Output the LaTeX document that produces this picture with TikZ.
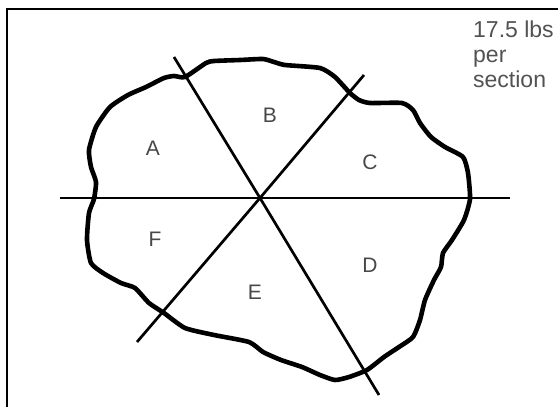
\documentclass[tikz,border=0pt]{standalone}
\usepackage{fontspec}
\setmainfont{Liberation Sans}
\usepackage{tikz}
\usetikzlibrary{calc}
\colorlet{labelcolor}{black!72}
\tikzset{
  outline/.style={black, line width=4.6pt, line join=round},
  cutline/.style={black, line width=2.7pt},
  frameline/.style={black, line width=2pt},
  section label/.style={text=labelcolor, font=\fontsize{21}{23}\selectfont},
  note/.style={text=black!68, align=left, anchor=north west,
    inner sep=0pt, font=\fontsize{23}{25}\selectfont}
}

\begin{document}
\begin{tikzpicture}[x=1pt, y=-1pt]

  \useasboundingbox (0,0) rectangle (558,407);

  % Frame, only left and top edges are visible.
  \draw[frameline] (7,407) -- (7,9) -- (558,9);

  % Irregular region.
  \draw[outline] plot[smooth cycle, tension=0.35] coordinates {
    (185,77) (206,63) (214,61) (240,60) (263,59) (274,62) (285,65)
    (320,68) (335,77) (350,93) (359,100) (370,103) (402,103) (413,110)
    (420,123) (431,137) (445,147) (463,157) (468,173) (470,199)
    (464,220) (452,240) (443,253) (441,267) (434,280) (425,300)
    (420,320) (413,337) (399,347) (384,357) (367,370) (349,377)
    (335,380) (320,375) (302,367) (281,360) (263,352) (249,342)
    (214,335) (185,328) (164,313) (149,303) (135,288) (121,283)
    (103,273) (91,263) (87,240) (89,213) (94,199) (96,182) (91,167)
    (89,150) (96,127) (110,107) (128,95) (146,87) (164,78) (174,76)
  };

  % Three cuts through a common centre.
  \coordinate (ctr) at (260,198);
  \coordinate (hL) at (60,198);
  \coordinate (hR) at (510,198);
  \coordinate (sTop) at (174,57);
  \coordinate (sBot) at (379,395);
  \coordinate (rTop) at (364,75);
  \coordinate (rBot) at (137,342);
  \draw[cutline] (hL) -- (ctr) -- (hR);
  \draw[cutline] (sTop) -- (ctr) -- (sBot);
  \draw[cutline] (rTop) -- (ctr) -- (rBot);

  % Section names.
  \node[section label] (secA) at (153,148) {A};
  \node[section label] (secB) at (270,115) {B};
  \node[section label] (secC) at (370,162) {C};
  \node[section label] (secD) at (370,265) {D};
  \node[section label] (secE) at (255,292) {E};
  \node[section label] (secF) at (155,239) {F};

  % Weight note.
  \node[note] (weight) at (473,21) {17.5 lbs\\per\\section};

\end{tikzpicture}
\end{document}
